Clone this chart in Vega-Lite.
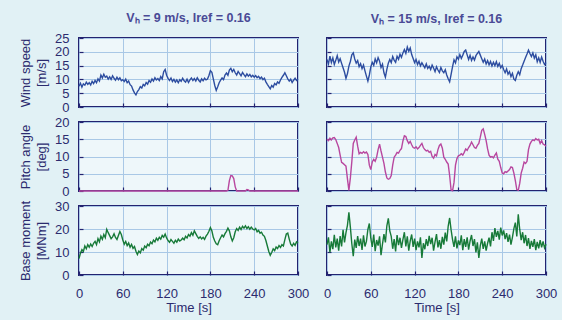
{
  "$schema": "https://vega.github.io/schema/vega-lite/v6.json",
  "background": "#e1f1f5",
  "padding": {"left": 18, "top": 10, "right": 5, "bottom": 5},
  "config": {
    "font": "Liberation Sans",
    "view": {"fill": "#eef7fa", "stroke": "#232370", "strokeWidth": 2},
    "axis": {
      "domain": false, "grid": true, "gridColor": "#a9c8e6", "gridWidth": 1,
      "tickColor": "#232370", "tickSize": -4, "tickWidth": 1.2, "labelFlush": false,
      "labelColor": "#2b2b6e", "labelFontSize": 13, "labelFont": "Liberation Sans", "labelPadding": 14,
      "titleColor": "#2b2b6e", "titleFontSize": 13, "titleFontWeight": "normal", "titleFont": "Liberation Sans", "titleLineHeight": 16, "titlePadding": 6
    },
    "line": {"strokeWidth": 1.4, "clip": true},
    "title": {"color": "#4a4a96", "fontSize": 12.5, "fontWeight": "bold", "font": "Liberation Sans", "frame": "group", "offset": 8}
  },
  "data": {"values": [
{"t":0,"w9":7.5,"w15":17.2,"p9":0,"p15":15.0,"m9":7.2,"m15":13.2},
{"t":2,"w9":8.6,"w15":15.6,"p9":0,"p15":14.6,"m9":9.5,"m15":16.4},
{"t":4,"w9":7.2,"w15":18.4,"p9":0,"p15":15.3,"m9":11.0,"m15":9.8},
{"t":6,"w9":8.4,"w15":16.1,"p9":0,"p15":14.8,"m9":10.2,"m15":14.6},
{"t":8,"w9":7.9,"w15":17.8,"p9":0,"p15":15.4,"m9":12.6,"m15":11.2},
{"t":10,"w9":9.0,"w15":15.4,"p9":0,"p15":15.5,"m9":11.4,"m15":17.5},
{"t":12,"w9":8.2,"w15":16.9,"p9":0,"p15":14.9,"m9":13.2,"m15":12.0},
{"t":14,"w9":8.8,"w15":18.6,"p9":0,"p15":13.8,"m9":12.1,"m15":15.8},
{"t":16,"w9":8.0,"w15":16.3,"p9":0,"p15":12.6,"m9":13.5,"m15":10.6},
{"t":18,"w9":9.3,"w15":17.5,"p9":0,"p15":10.4,"m9":12.4,"m15":16.9},
{"t":20,"w9":8.5,"w15":15.8,"p9":0,"p15":8.3,"m9":13.8,"m15":12.4},
{"t":22,"w9":9.6,"w15":14.2,"p9":0,"p15":8.0,"m9":14.6,"m15":19.6},
{"t":24,"w9":8.8,"w15":12.6,"p9":0,"p15":7.6,"m9":13.2,"m15":14.2},
{"t":26,"w9":10.2,"w15":10.4,"p9":0,"p15":7.2,"m9":15.8,"m15":18.4},
{"t":28,"w9":9.4,"w15":12.1,"p9":0,"p15":3.5,"m9":14.4,"m15":21.6},
{"t":30,"w9":11.6,"w15":14.8,"p9":0,"p15":0.2,"m9":16.9,"m15":27.2},
{"t":32,"w9":10.5,"w15":16.5,"p9":0,"p15":3.8,"m9":15.5,"m15":20.8},
{"t":34,"w9":11.9,"w15":18.9,"p9":0,"p15":8.5,"m9":17.6,"m15":13.6},
{"t":36,"w9":10.8,"w15":19.6,"p9":0,"p15":13.8,"m9":16.2,"m15":8.2},
{"t":38,"w9":11.2,"w15":17.4,"p9":0,"p15":14.8,"m9":19.8,"m15":15.4},
{"t":40,"w9":10.1,"w15":15.9,"p9":0,"p15":15.6,"m9":18.4,"m15":11.8},
{"t":42,"w9":10.9,"w15":16.8,"p9":0,"p15":13.0,"m9":17.1,"m15":16.9},
{"t":44,"w9":10.0,"w15":14.6,"p9":0,"p15":10.8,"m9":15.8,"m15":12.6},
{"t":46,"w9":11.3,"w15":15.7,"p9":0,"p15":11.2,"m9":16.6,"m15":15.8},
{"t":48,"w9":10.4,"w15":13.9,"p9":0,"p15":10.9,"m9":17.9,"m15":10.9},
{"t":50,"w9":9.7,"w15":15.2,"p9":0,"p15":11.4,"m9":16.3,"m15":17.2},
{"t":52,"w9":10.8,"w15":13.1,"p9":0,"p15":11.0,"m9":15.4,"m15":12.4},
{"t":54,"w9":9.9,"w15":11.2,"p9":0,"p15":11.3,"m9":17.2,"m15":14.6},
{"t":56,"w9":10.6,"w15":9.4,"p9":0,"p15":10.6,"m9":18.9,"m15":19.8},
{"t":58,"w9":9.5,"w15":11.6,"p9":0,"p15":7.5,"m9":17.6,"m15":22.4},
{"t":60,"w9":9.9,"w15":14.5,"p9":0,"p15":6.2,"m9":15.2,"m15":16.0},
{"t":62,"w9":9.2,"w15":16.2,"p9":0,"p15":8.4,"m9":13.4,"m15":12.2},
{"t":64,"w9":10.1,"w15":15.1,"p9":0,"p15":9.2,"m9":14.6,"m15":17.6},
{"t":66,"w9":8.8,"w15":17.4,"p9":0,"p15":8.6,"m9":12.8,"m15":10.4},
{"t":68,"w9":9.4,"w15":16.0,"p9":0,"p15":9.8,"m9":13.9,"m15":15.2},
{"t":70,"w9":8.1,"w15":17.9,"p9":0,"p15":12.0,"m9":12.1,"m15":12.8},
{"t":72,"w9":7.6,"w15":16.6,"p9":0,"p15":13.6,"m9":13.3,"m15":16.8},
{"t":74,"w9":6.2,"w15":14.3,"p9":0,"p15":11.6,"m9":11.6,"m15":8.6},
{"t":76,"w9":5.1,"w15":15.5,"p9":0,"p15":9.8,"m9":12.4,"m15":13.4},
{"t":78,"w9":4.4,"w15":12.4,"p9":0,"p15":8.0,"m9":10.3,"m15":17.8},
{"t":80,"w9":5.6,"w15":10.8,"p9":0,"p15":5.5,"m9":8.9,"m15":14.2},
{"t":82,"w9":6.3,"w15":13.6,"p9":0,"p15":3.8,"m9":10.4,"m15":21.4},
{"t":84,"w9":7.4,"w15":15.9,"p9":0,"p15":3.4,"m9":9.6,"m15":24.6},
{"t":86,"w9":6.9,"w15":17.2,"p9":0,"p15":3.6,"m9":11.5,"m15":19.2},
{"t":88,"w9":8.2,"w15":16.1,"p9":0,"p15":4.5,"m9":10.8,"m15":16.8},
{"t":90,"w9":7.7,"w15":18.3,"p9":0,"p15":7.5,"m9":12.6,"m15":11.4},
{"t":92,"w9":8.9,"w15":17.0,"p9":0,"p15":9.8,"m9":11.9,"m15":15.6},
{"t":94,"w9":8.3,"w15":16.2,"p9":0,"p15":10.4,"m9":13.4,"m15":10.2},
{"t":96,"w9":9.6,"w15":18.4,"p9":0,"p15":11.2,"m9":12.7,"m15":17.4},
{"t":98,"w9":9.0,"w15":17.3,"p9":0,"p15":11.0,"m9":14.3,"m15":13.0},
{"t":100,"w9":10.2,"w15":19.1,"p9":0,"p15":11.8,"m9":13.6,"m15":16.2},
{"t":102,"w9":9.4,"w15":18.0,"p9":0,"p15":12.3,"m9":15.2,"m15":11.8},
{"t":104,"w9":10.6,"w15":19.6,"p9":0,"p15":14.5,"m9":14.4,"m15":15.4},
{"t":106,"w9":9.8,"w15":20.8,"p9":0,"p15":16.0,"m9":16.0,"m15":18.6},
{"t":108,"w9":10.3,"w15":19.4,"p9":0,"p15":15.8,"m9":15.1,"m15":12.4},
{"t":110,"w9":9.6,"w15":21.7,"p9":0,"p15":14.6,"m9":16.4,"m15":16.8},
{"t":112,"w9":11.0,"w15":20.2,"p9":0,"p15":13.8,"m9":15.6,"m15":10.6},
{"t":114,"w9":10.2,"w15":21.4,"p9":0,"p15":14.4,"m9":17.2,"m15":14.8},
{"t":116,"w9":12.8,"w15":19.0,"p9":0,"p15":13.4,"m9":16.4,"m15":17.6},
{"t":118,"w9":13.6,"w15":17.6,"p9":0,"p15":12.6,"m9":17.8,"m15":12.2},
{"t":120,"w9":11.5,"w15":16.1,"p9":0,"p15":12.4,"m9":16.1,"m15":15.8},
{"t":122,"w9":10.4,"w15":17.2,"p9":0,"p15":12.8,"m9":15.0,"m15":10.8},
{"t":124,"w9":9.6,"w15":15.4,"p9":0,"p15":12.2,"m9":14.2,"m15":14.6},
{"t":126,"w9":10.5,"w15":16.6,"p9":0,"p15":12.6,"m9":15.4,"m15":12.0},
{"t":128,"w9":9.2,"w15":14.9,"p9":0,"p15":13.2,"m9":14.6,"m15":16.4},
{"t":130,"w9":10.0,"w15":16.0,"p9":0,"p15":13.8,"m9":13.8,"m15":7.4},
{"t":132,"w9":9.0,"w15":15.1,"p9":0,"p15":12.6,"m9":15.1,"m15":13.8},
{"t":134,"w9":9.8,"w15":14.2,"p9":0,"p15":12.0,"m9":14.3,"m15":11.2},
{"t":136,"w9":8.8,"w15":15.6,"p9":0,"p15":11.6,"m9":15.6,"m15":15.6},
{"t":138,"w9":9.9,"w15":14.0,"p9":0,"p15":11.8,"m9":14.8,"m15":12.6},
{"t":140,"w9":9.3,"w15":14.8,"p9":0,"p15":11.2,"m9":15.2,"m15":17.0},
{"t":142,"w9":10.4,"w15":13.6,"p9":0,"p15":11.5,"m9":16.0,"m15":13.4},
{"t":144,"w9":9.5,"w15":15.2,"p9":0,"p15":10.0,"m9":15.3,"m15":16.2},
{"t":146,"w9":9.0,"w15":14.1,"p9":0,"p15":9.5,"m9":16.8,"m15":10.6},
{"t":148,"w9":10.1,"w15":12.8,"p9":0,"p15":10.6,"m9":16.1,"m15":14.4},
{"t":150,"w9":8.9,"w15":14.6,"p9":0,"p15":10.2,"m9":17.6,"m15":17.8},
{"t":152,"w9":9.8,"w15":13.4,"p9":0,"p15":12.0,"m9":16.9,"m15":12.0},
{"t":154,"w9":10.5,"w15":12.5,"p9":0,"p15":13.2,"m9":18.4,"m15":15.2},
{"t":156,"w9":9.6,"w15":14.3,"p9":0,"p15":13.6,"m9":17.3,"m15":11.4},
{"t":158,"w9":10.3,"w15":13.1,"p9":0,"p15":12.4,"m9":19.2,"m15":16.6},
{"t":160,"w9":9.4,"w15":12.4,"p9":0,"p15":9.8,"m9":18.0,"m15":13.2},
{"t":162,"w9":10.6,"w15":13.5,"p9":0,"p15":9.2,"m9":16.8,"m15":18.4},
{"t":164,"w9":9.7,"w15":11.6,"p9":0,"p15":8.4,"m9":15.9,"m15":14.6},
{"t":166,"w9":9.1,"w15":10.2,"p9":0,"p15":7.8,"m9":16.6,"m15":21.2},
{"t":168,"w9":10.2,"w15":9.1,"p9":0,"p15":4.5,"m9":15.7,"m15":24.8},
{"t":170,"w9":9.5,"w15":11.8,"p9":0,"p15":0.3,"m9":16.4,"m15":19.6},
{"t":172,"w9":10.4,"w15":14.6,"p9":0,"p15":0.1,"m9":15.5,"m15":15.4},
{"t":174,"w9":9.8,"w15":17.1,"p9":0,"p15":2.5,"m9":16.9,"m15":12.2},
{"t":176,"w9":10.1,"w15":16.0,"p9":0,"p15":7.5,"m9":17.8,"m15":16.8},
{"t":178,"w9":11.4,"w15":18.2,"p9":0,"p15":9.4,"m9":19.0,"m15":11.6},
{"t":180,"w9":13.2,"w15":17.3,"p9":0,"p15":10.2,"m9":20.6,"m15":15.0},
{"t":182,"w9":12.6,"w15":19.0,"p9":0,"p15":10.4,"m9":19.2,"m15":13.0},
{"t":184,"w9":10.2,"w15":17.6,"p9":0,"p15":10.8,"m9":16.4,"m15":17.2},
{"t":186,"w9":7.8,"w15":18.8,"p9":0,"p15":10.4,"m9":14.8,"m15":10.8},
{"t":188,"w9":6.0,"w15":20.1,"p9":0,"p15":11.2,"m9":13.6,"m15":15.6},
{"t":190,"w9":7.3,"w15":20.6,"p9":0,"p15":12.2,"m9":13.2,"m15":12.2},
{"t":192,"w9":8.8,"w15":18.9,"p9":0,"p15":11.8,"m9":14.9,"m15":16.4},
{"t":194,"w9":9.7,"w15":17.2,"p9":0,"p15":12.6,"m9":16.2,"m15":11.0},
{"t":196,"w9":10.5,"w15":18.7,"p9":0,"p15":13.2,"m9":17.4,"m15":14.8},
{"t":198,"w9":9.9,"w15":16.9,"p9":0,"p15":14.2,"m9":16.6,"m15":17.4},
{"t":200,"w9":11.6,"w15":18.1,"p9":0,"p15":13.4,"m9":18.0,"m15":12.6},
{"t":202,"w9":12.3,"w15":17.0,"p9":0,"p15":12.6,"m9":19.0,"m15":15.6},
{"t":204,"w9":11.5,"w15":18.6,"p9":0.2,"p15":12.4,"m9":20.4,"m15":9.8},
{"t":206,"w9":13.4,"w15":19.4,"p9":3.0,"p15":13.2,"m9":19.2,"m15":14.2},
{"t":208,"w9":14.0,"w15":20.1,"p9":4.5,"p15":13.8,"m9":16.6,"m15":7.4},
{"t":210,"w9":12.8,"w15":18.8,"p9":4.4,"p15":15.6,"m9":14.8,"m15":12.8},
{"t":212,"w9":13.6,"w15":17.5,"p9":3.6,"p15":17.6,"m9":16.2,"m15":15.8},
{"t":214,"w9":12.4,"w15":16.2,"p9":1.2,"p15":18.0,"m9":18.8,"m15":11.4},
{"t":216,"w9":11.6,"w15":17.4,"p9":0,"p15":16.4,"m9":20.2,"m15":14.6},
{"t":218,"w9":12.9,"w15":15.6,"p9":0,"p15":14.6,"m9":19.4,"m15":10.6},
{"t":220,"w9":12.1,"w15":16.8,"p9":0,"p15":12.2,"m9":20.8,"m15":13.8},
{"t":222,"w9":11.3,"w15":15.3,"p9":0,"p15":10.4,"m9":19.8,"m15":16.2},
{"t":224,"w9":12.5,"w15":16.5,"p9":0,"p15":9.8,"m9":21.2,"m15":12.4},
{"t":226,"w9":11.7,"w15":14.9,"p9":0,"p15":10.0,"m9":20.4,"m15":18.6},
{"t":228,"w9":11.0,"w15":16.2,"p9":0,"p15":9.6,"m9":21.4,"m15":14.8},
{"t":230,"w9":12.0,"w15":15.0,"p9":0.4,"p15":10.4,"m9":20.2,"m15":20.4},
{"t":232,"w9":11.2,"w15":16.4,"p9":0.3,"p15":11.0,"m9":21.0,"m15":16.6},
{"t":234,"w9":11.8,"w15":14.7,"p9":0,"p15":9.2,"m9":19.9,"m15":19.2},
{"t":236,"w9":10.9,"w15":15.8,"p9":0,"p15":8.6,"m9":20.8,"m15":15.4},
{"t":238,"w9":11.5,"w15":14.2,"p9":0,"p15":6.8,"m9":20.0,"m15":20.6},
{"t":240,"w9":10.8,"w15":15.1,"p9":0,"p15":5.2,"m9":19.6,"m15":17.2},
{"t":242,"w9":11.4,"w15":13.6,"p9":0,"p15":5.0,"m9":20.2,"m15":19.4},
{"t":244,"w9":10.6,"w15":12.4,"p9":0,"p15":5.6,"m9":18.8,"m15":15.6},
{"t":246,"w9":11.1,"w15":13.8,"p9":0,"p15":5.4,"m9":19.4,"m15":18.2},
{"t":248,"w9":10.3,"w15":11.9,"p9":0,"p15":5.8,"m9":18.2,"m15":14.4},
{"t":250,"w9":10.8,"w15":12.8,"p9":0,"p15":6.2,"m9":18.6,"m15":17.6},
{"t":252,"w9":9.9,"w15":11.0,"p9":0,"p15":7.0,"m9":17.4,"m15":13.2},
{"t":254,"w9":10.4,"w15":12.2,"p9":0,"p15":6.8,"m9":16.8,"m15":16.4},
{"t":256,"w9":9.1,"w15":10.1,"p9":0,"p15":5.2,"m9":15.0,"m15":20.2},
{"t":258,"w9":8.2,"w15":9.6,"p9":0,"p15":3.0,"m9":12.6,"m15":22.8},
{"t":260,"w9":7.4,"w15":11.5,"p9":0,"p15":0.4,"m9":10.2,"m15":16.8},
{"t":262,"w9":6.6,"w15":12.8,"p9":0,"p15":0.2,"m9":8.6,"m15":26.4},
{"t":264,"w9":7.8,"w15":11.7,"p9":0,"p15":2.2,"m9":9.8,"m15":19.8},
{"t":266,"w9":7.2,"w15":13.9,"p9":0,"p15":5.2,"m9":11.4,"m15":15.2},
{"t":268,"w9":8.5,"w15":15.2,"p9":0,"p15":6.6,"m9":10.6,"m15":18.6},
{"t":270,"w9":8.0,"w15":16.6,"p9":0,"p15":8.4,"m9":12.2,"m15":13.8},
{"t":272,"w9":9.1,"w15":17.9,"p9":0,"p15":8.0,"m9":11.5,"m15":17.4},
{"t":274,"w9":8.6,"w15":19.2,"p9":0,"p15":8.6,"m9":12.8,"m15":12.6},
{"t":276,"w9":9.8,"w15":20.6,"p9":0,"p15":12.0,"m9":12.0,"m15":16.0},
{"t":278,"w9":10.7,"w15":19.4,"p9":0,"p15":13.6,"m9":13.2,"m15":11.4},
{"t":280,"w9":11.5,"w15":18.3,"p9":0,"p15":14.4,"m9":12.6,"m15":14.8},
{"t":282,"w9":12.4,"w15":19.6,"p9":0,"p15":14.8,"m9":15.4,"m15":12.2},
{"t":284,"w9":11.3,"w15":17.7,"p9":0,"p15":14.6,"m9":17.8,"m15":15.6},
{"t":286,"w9":10.2,"w15":18.9,"p9":0,"p15":15.2,"m9":18.2,"m15":10.8},
{"t":288,"w9":9.4,"w15":16.4,"p9":0,"p15":14.8,"m9":15.6,"m15":14.4},
{"t":290,"w9":10.1,"w15":17.8,"p9":0,"p15":15.0,"m9":13.4,"m15":11.6},
{"t":292,"w9":8.9,"w15":16.2,"p9":0,"p15":13.8,"m9":12.6,"m15":15.2},
{"t":294,"w9":9.7,"w15":18.1,"p9":0,"p15":14.6,"m9":13.8,"m15":12.0},
{"t":296,"w9":10.4,"w15":16.6,"p9":0,"p15":13.6,"m9":12.9,"m15":14.6},
{"t":298,"w9":9.6,"w15":15.4,"p9":0,"p15":13.4,"m9":14.4,"m15":11.8},
{"t":300,"w9":10.1,"w15":16.1,"p9":0,"p15":13.0,"m9":14.0,"m15":13.4}
  ]},
  "spacing": 12,
  "hconcat": [
    {
      "bounds": "flush",
      "spacing": 15,
      "vconcat": [
        {
          "width": 219, "height": 69,
          "title": {"text": "Vₕ = 9 m/s, Iref = 0.16"},
          "mark": {"type": "line", "color": "#2d4da0"},
          "encoding": {
            "x": {"field": "t", "type": "quantitative", "scale": {"domain": [0, 300], "nice": false}, "axis": {"values": [0, 60, 120, 180, 240, 300], "labels": false, "title": null}},
            "y": {"field": "w9", "type": "quantitative", "scale": {"domain": [0, 25], "nice": false}, "axis": {"values": [0, 5, 10, 15, 20, 25], "title": ["Wind speed", "[m/s]"]}}
          }
        },
        {
          "width": 219, "height": 69,
          "mark": {"type": "line", "color": "#b8479f"},
          "encoding": {
            "x": {"field": "t", "type": "quantitative", "scale": {"domain": [0, 300], "nice": false}, "axis": {"values": [0, 60, 120, 180, 240, 300], "labels": false, "title": null}},
            "y": {"field": "p9", "type": "quantitative", "scale": {"domain": [0, 20], "nice": false}, "axis": {"values": [0, 5, 10, 15, 20], "title": ["Pitch angle", "[deg]"]}}
          }
        },
        {
          "width": 219, "height": 69,
          "mark": {"type": "line", "color": "#177a38"},
          "encoding": {
            "x": {"field": "t", "type": "quantitative", "scale": {"domain": [0, 300], "nice": false}, "axis": {"values": [0, 60, 120, 180, 240, 300], "title": "Time [s]", "labelPadding": 16, "titlePadding": 1}},
            "y": {"field": "m9", "type": "quantitative", "scale": {"domain": [0, 30], "nice": false}, "axis": {"values": [0, 10, 20, 30], "title": ["Base moment", "[MNm]"]}}
          }
        }
      ]
    },
    {
      "bounds": "flush",
      "spacing": 15,
      "vconcat": [
        {
          "width": 219, "height": 69,
          "title": {"text": "Vₕ = 15 m/s, Iref = 0.16", "offset": 12},
          "mark": {"type": "line", "color": "#2d4da0"},
          "encoding": {
            "x": {"field": "t", "type": "quantitative", "scale": {"domain": [0, 300], "nice": false}, "axis": {"values": [0, 60, 120, 180, 240, 300], "labels": false, "title": null}},
            "y": {"field": "w15", "type": "quantitative", "scale": {"domain": [0, 25], "nice": false}, "axis": {"values": [0, 5, 10, 15, 20, 25], "labels": false, "title": null}}
          }
        },
        {
          "width": 219, "height": 69,
          "mark": {"type": "line", "color": "#b8479f"},
          "encoding": {
            "x": {"field": "t", "type": "quantitative", "scale": {"domain": [0, 300], "nice": false}, "axis": {"values": [0, 60, 120, 180, 240, 300], "labels": false, "title": null}},
            "y": {"field": "p15", "type": "quantitative", "scale": {"domain": [0, 20], "nice": false}, "axis": {"values": [0, 5, 10, 15, 20], "labels": false, "title": null}}
          }
        },
        {
          "width": 219, "height": 69,
          "mark": {"type": "line", "color": "#177a38"},
          "encoding": {
            "x": {"field": "t", "type": "quantitative", "scale": {"domain": [0, 300], "nice": false}, "axis": {"values": [0, 60, 120, 180, 240, 300], "title": "Time [s]", "labelPadding": 16, "titlePadding": 1}},
            "y": {"field": "m15", "type": "quantitative", "scale": {"domain": [0, 30], "nice": false}, "axis": {"values": [0, 10, 20, 30], "labels": false, "title": null}}
          }
        }
      ]
    }
  ]
}
